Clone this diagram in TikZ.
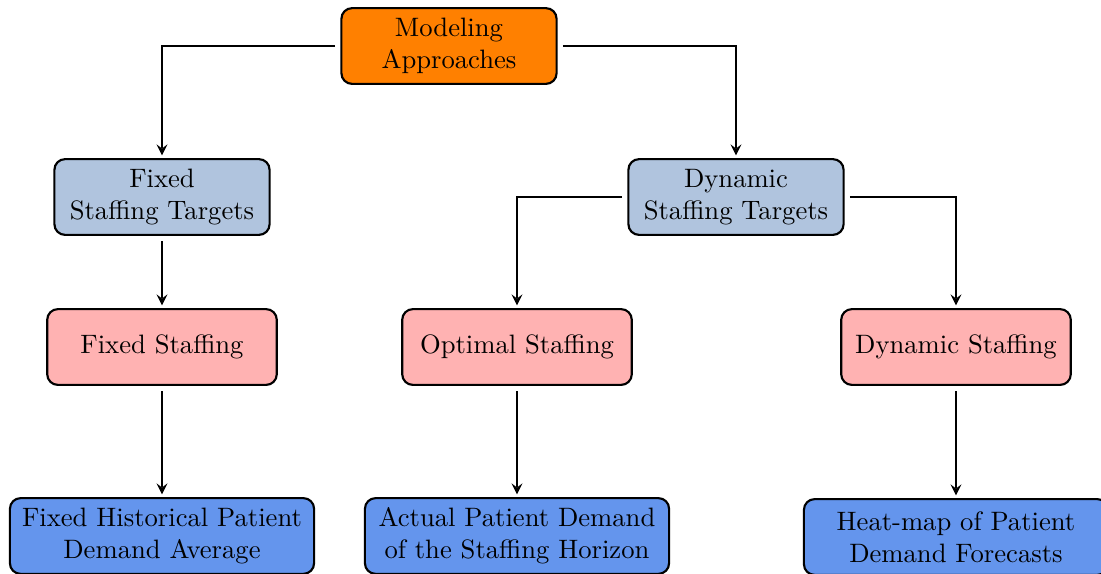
\documentclass[tikz,border=0pt]{standalone}
\usepackage{tikz}
\usetikzlibrary{arrows}
\definecolor{lightsteel}{HTML}{B0C4DE}
\definecolor{cornflower}{HTML}{6495ED}

\begin{document}
\begin{tikzpicture}[x=0.0132cm, y=-0.0132cm,
    box/.style={draw, thick, rounded corners=4pt, align=center, minimum height=1cm},
    rootbox/.style={box, fill=orange, minimum width=2.84cm},
    targetbox/.style={box, fill=lightsteel, minimum width=2.84cm},
    staffbox/.style={box, fill=red!30, minimum width=3.03cm},
    demandbox/.style={box, fill=cornflower, text width=3.78cm},
    arr/.style={->, >=stealth, thick, shorten <=2pt, shorten >=1pt}]
    \useasboundingbox (0,0) rectangle (1101,573);
    % Root
    \node[rootbox] (root) at (449, 46) {Modeling\\Approaches};
    % Staffing targets
    \node[targetbox] (fixedtarget) at (162, 197) {Fixed\\Staffing Targets};
    \node[targetbox] (dyntarget) at (736, 197) {Dynamic\\Staffing Targets};
    % Staffing methods
    \node[staffbox] (fixedstaff) at (162, 347) {Fixed Staffing};
    \node[staffbox] (optstaff) at (517, 347) {Optimal Staffing};
    \node[staffbox] (dynstaff) at (956, 347) {Dynamic Staffing};
    % Demand inputs
    \node[demandbox] (histdemand) at (162, 536) {Fixed Historical Patient\\Demand Average};
    \node[demandbox] (actdemand) at (517, 536) {Actual Patient Demand\\of the Staffing Horizon};
    \node[demandbox] (heatmap) at (956, 537) {Heat-map of Patient\\Demand Forecasts};
    % Connectors
    \draw[arr] (root.west) -| (fixedtarget.north);
    \draw[arr] (root.east) -| (dyntarget.north);
    \draw[arr] (fixedtarget) -- (fixedstaff);
    \draw[arr] (dyntarget.west) -| (optstaff.north);
    \draw[arr] (dyntarget.east) -| (dynstaff.north);
    \draw[arr] (fixedstaff) -- (histdemand);
    \draw[arr] (optstaff) -- (actdemand);
    \draw[arr] (dynstaff) -- (heatmap);
\end{tikzpicture}
\end{document}
